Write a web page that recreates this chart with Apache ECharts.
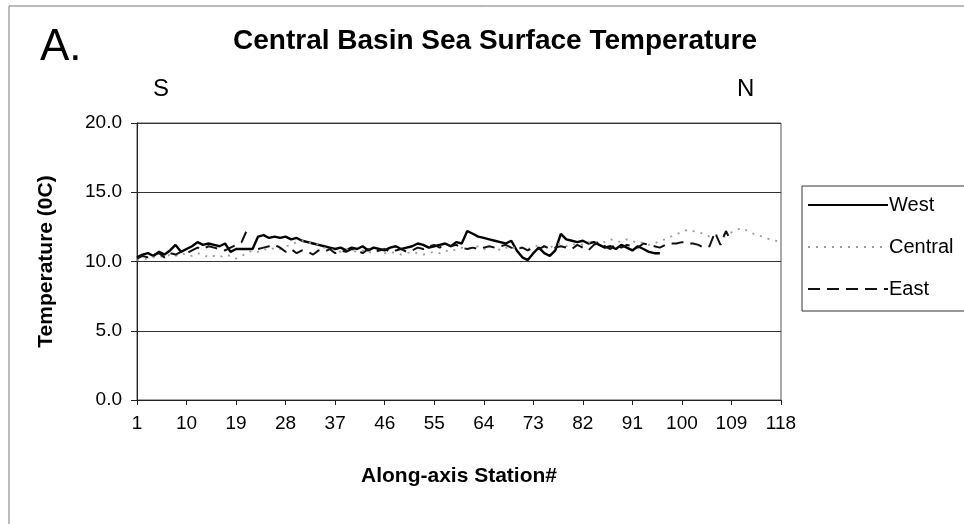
<!DOCTYPE html>
<html>
<head>
<meta charset="utf-8">
<script src="https://cdn.jsdelivr.net/npm/echarts@6/dist/echarts.min.js"></script>
<style>
  html, body { margin: 0; padding: 0; background: #fff; }
  #chart { width: 964px; height: 524px; }
</style>
</head>
<body>
<div id="chart"></div>
<script>
// stations along the axis, 1 .. 118
var stations = Array.from({ length: 118 }, function (_, i) { return String(i + 1); });

// West (solid)
var westTemp = [
  10.3, 10.5, 10.6, 10.4, 10.7, 10.5, 10.8, 11.2, 10.7, 10.9,
  11.1, 11.4, 11.2, 11.3, 11.2, 11.1, 11.3, 10.7, 10.9, 10.9,
  10.9, 10.9, 11.8, 11.9, 11.7, 11.8, 11.7, 11.8, 11.6, 11.7,
  11.5, 11.4, 11.3, 11.2, 11.1, 11.0, 10.9, 11.0, 10.8, 11.0,
  10.9, 11.1, 10.8, 11.0, 10.9, 10.8, 11.0, 11.1, 10.9, 11.0,
  11.1, 11.3, 11.2, 11.0, 11.1, 11.2, 11.3, 11.1, 11.4, 11.3,
  12.2, 12.0, 11.8, 11.7, 11.6, 11.5, 11.4, 11.3, 11.5, 10.8,
  10.3, 10.1, 10.6, 11.0, 10.6, 10.4, 10.8, 12.0, 11.6, 11.5,
  11.4, 11.5, 11.3, 11.4, 11.2, 11.0, 11.1, 10.9, 11.2, 11.0,
  10.8, 11.1, 10.9, 10.7, 10.6, 10.6
];

// Central (dotted)
var centralTemp = [
  10.1, 10.2, 10.2, 10.3, 10.4, 10.3, 10.5, 10.4, 10.6, 10.5,
  10.4, 10.6, 10.5, 10.3, 10.4, 10.3, 10.5, 10.4, 10.2, 10.4,
  10.6, 10.8, 10.7, 10.9, 10.8, 11.0, 10.9, 11.1, 11.2, 11.4,
  11.5, 11.3, 11.4, 11.2, 11.0, 10.9, 10.8, 10.7, 10.9, 10.8,
  10.7, 10.8, 10.6, 10.8, 10.7, 10.6, 10.7, 10.6, 10.5, 10.6,
  10.7, 10.6, 10.5, 10.6, 10.7, 10.6, 10.8, 10.7, 10.9, 11.0,
  10.9, 11.0, 11.1, 10.9, 11.0, 11.1, 10.8, 11.0, 10.9, 11.1,
  11.0, 10.9, 11.0, 11.2, 11.1, 11.0, 11.2, 11.3, 11.1, 11.2,
  11.3, 11.2, 11.4, 11.3, 11.5, 11.4, 11.6, 11.5, 11.4, 11.6,
  11.5, 11.3, 11.4, 11.2, 11.3, 11.5, 11.6, 11.8, 12.0, 12.1,
  12.3, 12.2, 12.1, 12.0, 11.8, 11.9, 12.0, 11.9, 12.1, 12.3,
  12.4, 12.2, 12.0, 11.9, 11.7, 11.6, 11.5, 11.4
];

// East (dashed), gap at station 22
var eastTemp = [
  10.2, 10.4, 10.3, 10.5, 10.6, 10.3, 10.6, 10.5, 10.7, 10.6,
  10.8, 11.0, 10.9, 11.1, 11.0, 10.9, 10.8, 11.0, 11.2, 11.4,
  12.3, null, 10.9, 11.0, 11.1, 11.2, 11.0, 10.7, 10.9, 10.6,
  10.8, 10.7, 10.5, 10.8, 10.7, 10.9, 10.6, 10.8, 10.7, 10.9,
  10.8, 10.6, 10.9, 10.7, 10.8, 10.9, 10.7, 10.8, 10.9, 10.7,
  10.8, 11.0, 10.9, 11.1, 11.2, 11.0, 11.3, 11.1, 11.2, 11.0,
  10.9, 11.0, 10.9, 11.0, 11.1, 11.0, 11.1, 11.2, 11.0, 10.9,
  11.0, 10.8, 11.0, 10.9, 11.1, 10.9, 11.0, 11.1, 11.0, 10.9,
  11.2, 11.0, 10.8, 11.2, 11.4, 11.1, 10.9, 11.3, 11.0, 11.2,
  11.1, 11.0, 11.3, 11.2, 11.1, 11.0, 11.2, 11.3, 11.3, 11.4,
  11.3, 11.3, 11.2, 11.0, 11.1, 12.1, 11.2, 12.2, 11.4
];

var font = 'Liberation Sans, Arial, sans-serif';

var myChart = echarts.init(document.getElementById('chart'));

var option = {
  backgroundColor: '#fff',
  animation: false,
  title: {
    text: 'Central Basin Sea Surface Temperature',
    left: 490,
    top: 22,
    textAlign: 'center',
    textStyle: { fontFamily: font, fontSize: 28, fontWeight: 'bold', color: '#000' }
  },
  legend: {
    orient: 'vertical',
    left: 802,
    top: 186,
    itemWidth: 80,
    itemHeight: 14,
    itemGap: 22,
    padding: [9, 14, 12, 5],
    borderColor: '#333',
    borderWidth: 1,
    itemStyle: { opacity: 0 },
    textStyle: { fontFamily: font, fontSize: 20, color: '#000', padding: [0, 0, 0, -4] },
    data: ['West', 'Central', 'East']
  },
  grid: {
    left: 137,
    right: 183,
    top: 123,
    bottom: 124,
    show: true,
    borderColor: '#555',
    borderWidth: 1
  },
  xAxis: {
    type: 'category',
    data: stations,
    boundaryGap: false,
    name: 'Along-axis Station#',
    nameLocation: 'middle',
    nameGap: 66,
    nameTextStyle: { fontFamily: font, fontSize: 21, fontWeight: 'bold', color: '#000' },
    axisLine: { lineStyle: { color: '#222', width: 1 } },
    axisTick: { interval: 8, length: 5, lineStyle: { color: '#222' } },
    axisLabel: { interval: 8, margin: 14, fontFamily: font, fontSize: 19, color: '#000' },
    splitLine: { show: false }
  },
  yAxis: {
    type: 'value',
    min: 0,
    max: 20,
    interval: 5,
    name: 'Temperature (0C)',
    nameLocation: 'middle',
    nameRotate: 90,
    nameGap: 80,
    nameTextStyle: { fontFamily: font, fontSize: 21, fontWeight: 'bold', color: '#000' },
    axisLine: { show: true, lineStyle: { color: '#222', width: 1 } },
    axisTick: { show: true, length: 6, lineStyle: { color: '#222' } },
    axisLabel: {
      margin: 15,
      fontFamily: font,
      fontSize: 19,
      color: '#000',
      formatter: function (v) { return v.toFixed(1); }
    },
    splitLine: { lineStyle: { color: '#333', width: 1 } }
  },
  graphic: [
    { type: 'text', left: 40, top: 26, style: { text: 'A.', font: '44px ' + font, fill: '#000' } },
    { type: 'text', left: 153, top: 77, style: { text: 'S', font: '24px ' + font, fill: '#000' } },
    { type: 'text', left: 737, top: 77, style: { text: 'N', font: '24px ' + font, fill: '#000' } },
    { type: 'line', shape: { x1: 9, y1: 6, x2: 964, y2: 6 }, style: { stroke: '#777', lineWidth: 1 } },
    { type: 'line', shape: { x1: 9, y1: 6, x2: 9, y2: 524 }, style: { stroke: '#777', lineWidth: 1 } }
  ],
  series: [
    {
      name: 'West',
      type: 'line',
      data: westTemp,
      symbol: 'none',
      lineStyle: { color: '#000', width: 2.4, type: 'solid' },
      itemStyle: { color: '#000' }
    },
    {
      name: 'Central',
      type: 'line',
      data: centralTemp,
      symbol: 'none',
      lineStyle: { color: '#999', width: 1.8, type: [2, 6] },
      itemStyle: { color: '#999' }
    },
    {
      name: 'East',
      type: 'line',
      data: eastTemp,
      symbol: 'none',
      connectNulls: false,
      lineStyle: { color: '#111', width: 2, type: [12, 7] },
      itemStyle: { color: '#111' }
    }
  ]
};

option && myChart.setOption(option);
</script>
</body>
</html>
